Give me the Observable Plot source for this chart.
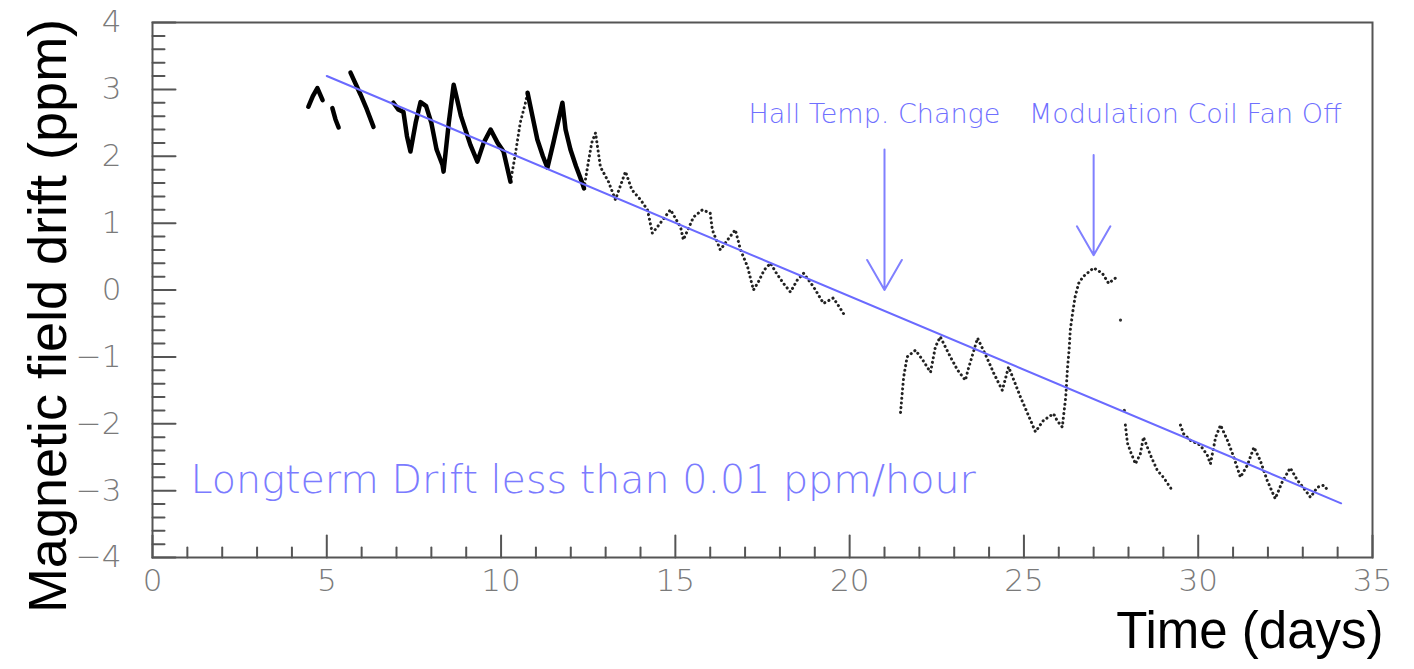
<!DOCTYPE html>
<html>
<head>
<meta charset="utf-8">
<script src="https://cdn.jsdelivr.net/npm/d3@7"></script>
<script src="https://cdn.jsdelivr.net/npm/@observablehq/plot@0.6"></script>
<style>
  html, body { margin: 0; padding: 0; background: #fff; }
</style>
</head>
<body>
<div id="chart"></div>
<script>
// ---- Data ----
// Dense (thick) measurement pieces: time in days, drift in ppm, piece id
const denseTime = [4.47, 4.6, 4.73, 4.88,
  5.16, 5.25, 5.34,
  5.68, 5.97, 6.15, 6.34,
  6.91, 7.05, 7.2, 7.3, 7.4, 7.55, 7.69, 7.85, 8.0, 8.15, 8.32, 8.35, 8.5, 8.64, 8.85, 9.12, 9.32, 9.5, 9.7, 9.9, 10.07, 10.27,
  10.76, 10.9, 11.04, 11.2, 11.33, 11.5, 11.76, 11.85, 11.99, 12.15, 12.33, 12.38];
const denseDrift = [2.74, 2.9, 3.02, 2.84,
  2.72, 2.55, 2.43,
  3.25, 2.92, 2.7, 2.44,
  2.8, 2.7, 2.66, 2.3, 2.07, 2.5, 2.81, 2.75, 2.5, 2.1, 1.87, 1.77, 2.5, 3.07, 2.6, 2.17, 1.92, 2.2, 2.4, 2.2, 2.07, 1.62,
  2.95, 2.6, 2.25, 2.0, 1.83, 2.2, 2.8, 2.4, 2.1, 1.85, 1.6, 1.52];
const densePiece = [1, 1, 1, 1,
  2, 2, 2,
  3, 3, 3, 3,
  4, 4, 4, 4, 4, 4, 4, 4, 4, 4, 4, 4, 4, 4, 4, 4, 4, 4, 4, 4, 4, 4,
  5, 5, 5, 5, 5, 5, 5, 5, 5, 5, 5, 5];

// Sparse (dotted) measurement pieces
const sparseTime = [10.27, 10.4, 10.55, 10.7, 10.76,
  12.38, 12.5, 12.6, 12.71, 12.85, 13.08, 13.28, 13.57, 13.75, 14.0, 14.2, 14.34, 14.48, 14.86, 15.15, 15.23, 15.52, 15.78, 16.0, 16.06, 16.29, 16.5, 16.72, 16.87, 17.07, 17.24, 17.38, 17.55, 17.73, 17.9, 18.1, 18.3, 18.5, 18.68, 18.96, 19.25, 19.53, 19.7, 19.88,
  21.46, 21.55, 21.65, 21.89, 22.1, 22.32, 22.46, 22.6, 22.89, 23.1, 23.32, 23.41, 23.67, 23.9, 24.13, 24.38, 24.56, 24.75, 24.9, 25.1, 25.33, 25.56, 25.85, 25.95, 26.1, 26.2, 26.25, 26.3, 26.33, 26.4, 26.47, 26.57, 26.7, 27.0, 27.25, 27.43, 27.68,
  27.91, 27.97, 28.06, 28.2, 28.34, 28.43, 28.63, 28.83, 29.0, 29.26,
  29.49, 29.58, 29.78, 30.06, 30.26, 30.35, 30.5, 30.64, 30.84, 31.0, 31.21, 31.41, 31.6, 31.78, 31.98, 32.21, 32.41, 32.64, 32.84, 33.08, 33.22, 33.42, 33.6, 33.73];
const sparseDrift = [1.62, 2.0, 2.5, 2.8, 2.95,
  1.52, 1.9, 2.2, 2.35, 1.84, 1.62, 1.35, 1.77, 1.5, 1.35, 1.2, 0.85, 0.94, 1.2, 0.94, 0.75, 1.09, 1.2, 1.15, 0.9, 0.6, 0.75, 0.9, 0.6, 0.35, 0.0, 0.12, 0.3, 0.4, 0.25, 0.1, -0.03, 0.15, 0.25, 0.05, -0.2, -0.12, -0.25, -0.4,
  -1.83, -1.3, -1.0, -0.9, -1.05, -1.23, -0.85, -0.7, -1.0, -1.2, -1.35, -1.17, -0.72, -0.97, -1.24, -1.5, -1.15, -1.4, -1.6, -1.84, -2.12, -1.95, -1.85, -1.95, -2.05, -1.6, -1.17, -0.87, -0.6, -0.33, -0.1, 0.1, 0.2, 0.33, 0.25, 0.1, 0.2,
  -2.02, -2.29, -2.42, -2.6, -2.45, -2.2, -2.47, -2.7, -2.8, -3.0,
  -2.02, -2.15, -2.25, -2.32, -2.47, -2.6, -2.2, -2.02, -2.25, -2.47, -2.8, -2.62, -2.35, -2.55, -2.85, -3.12, -2.87, -2.66, -2.84, -3.0, -3.1, -2.95, -2.92, -3.0];
const sparsePiece = [1, 1, 1, 1, 1,
  2, 2, 2, 2, 2, 2, 2, 2, 2, 2, 2, 2, 2, 2, 2, 2, 2, 2, 2, 2, 2, 2, 2, 2, 2, 2, 2, 2, 2, 2, 2, 2, 2, 2, 2, 2, 2, 2, 2,
  3, 3, 3, 3, 3, 3, 3, 3, 3, 3, 3, 3, 3, 3, 3, 3, 3, 3, 3, 3, 3, 3, 3, 3, 3, 3, 3, 3, 3, 3, 3, 3, 3, 3, 3, 3, 3,
  4, 4, 4, 4, 4, 4, 4, 4, 4, 4,
  5, 5, 5, 5, 5, 5, 5, 5, 5, 5, 5, 5, 5, 5, 5, 5, 5, 5, 5, 5, 5, 5, 5, 5];

// Isolated stray points
const strayTime = [27.77, 27.88];
const strayDrift = [-0.45, -1.8];

// Long-term linear fit
const fitTime = [5.0, 34.1];
const fitDrift = [3.2, -3.19];

// Annotations
const noteLabels = ["Hall Temp. Change", "Modulation Coil Fan Off"];
const noteTextTime = [20.71, 29.63];
const noteTextDrift = [2.62, 2.62];
const arrowTime = [21.0, 27.0];
const arrowFrom = [2.1, 2.02];
const arrowTo = [0.0, 0.52];
const driftNote = "Longterm Drift less than 0.01 ppm/hour";
const driftNoteTime = 1.09;
const driftNoteDrift = -2.84;

// Axis ticks
const xMajor = [0, 5, 10, 15, 20, 25, 30, 35];
const xMinor = d3.range(0, 36).filter(d => d % 5 !== 0);
const yMajor = [-4, -3, -2, -1, 0, 1, 2, 3, 4];
const yMinor = d3.range(-40, 41, 2).filter(d => d % 10 !== 0).map(d => d / 10);

const xTitle = "Time (days)";
const yTitle = "Magnetic field drift (ppm)";

// ---- Build tables ----
const dense = denseTime.map((t, i) => ({t, v: denseDrift[i], p: densePiece[i]}));
const sparse = sparseTime.map((t, i) => ({t, v: sparseDrift[i], p: sparsePiece[i]}));
const stray = strayTime.map((t, i) => ({t, v: strayDrift[i]}));
const fit = fitTime.map((t, i) => ({t, v: fitDrift[i]}));
const notes = noteLabels.map((label, i) => ({label, t: noteTextTime[i], v: noteTextDrift[i]}));
const arrows = arrowTime.map((t, i) => ({t, v1: arrowFrom[i], v2: arrowTo[i]}));

const tickShape = {draw(context, l) { context.moveTo(0, 0); context.lineTo(0, -l); }};
const axisColor = "#555";
const blue = "#6a6aff";
const labelFont = "DejaVu Sans";
const fmt = d => String(d).replace("-", "\u2212");

const chart = Plot.plot({
  width: 1414,
  height: 669,
  marginLeft: 152,
  marginRight: 42,
  marginTop: 22,
  marginBottom: 112,
  x: {domain: [0, 35]},
  y: {domain: [-4, 4]},
  style: {background: "#fff", fontFamily: labelFont},
  marks: [
    // tick labels
    Plot.axisX(xMajor, {tickSize: 0, tickPadding: 11, tickFormat: fmt, fontSize: 31, fill: "#7a7a7a", fontWeight: 300, label: null}),
    Plot.axisY(yMajor, {tickSize: 0, tickPadding: 31, tickFormat: fmt, fontSize: 31, fill: "#7a7a7a", fontWeight: 300, label: null}),
    // inward ticks
    Plot.vector(xMinor, {x: d => d, y: -4, length: 10, rotate: 0, anchor: "start", shape: tickShape, stroke: axisColor, strokeWidth: 2}),
    Plot.vector(xMajor, {x: d => d, y: -4, length: 22, rotate: 0, anchor: "start", shape: tickShape, stroke: axisColor, strokeWidth: 2}),
    Plot.vector(yMinor, {x: 0, y: d => d, length: 12, rotate: 90, anchor: "start", shape: tickShape, stroke: axisColor, strokeWidth: 2}),
    Plot.vector(yMajor, {x: 0, y: d => d, length: 23, rotate: 90, anchor: "start", shape: tickShape, stroke: axisColor, strokeWidth: 2}),
    Plot.frame({stroke: axisColor, strokeWidth: 2}),
    // data
    Plot.line(sparse, {x: "t", y: "v", z: "p", stroke: "#222", strokeWidth: 3, strokeLinecap: "round", strokeDasharray: "0.1,4.6"}),
    Plot.line(dense, {x: "t", y: "v", z: "p", stroke: "#000", strokeWidth: 4.5, strokeLinejoin: "round"}),
    Plot.dot(stray, {x: "t", y: "v", r: 1.6, fill: "#333"}),
    // fit
    Plot.line(fit, {x: "t", y: "v", stroke: blue, strokeWidth: 2}),
    // annotations
    Plot.arrow(arrows, {x: "t", y1: "v1", y2: "v2", stroke: "#8080ff", strokeWidth: 2, headLength: 26, headAngle: 60}),
    Plot.text(notes, {x: "t", y: "v", text: "label", fontSize: 27, fill: "#7070ff", fontWeight: 300}),
    Plot.text([driftNote], {x: driftNoteTime, y: driftNoteDrift, text: d => d, textAnchor: "start", fontSize: 39.6, fill: "#7b7bff", fontWeight: 300}),
    // axis titles
    Plot.text([yTitle], {frameAnchor: "left", text: d => d, textAnchor: "middle", rotate: -90, dx: -104, dy: 26, fontSize: 54, fill: "#000", fontFamily: "Liberation Sans"}),
    Plot.text([xTitle], {frameAnchor: "bottom-right", text: d => d, textAnchor: "end", dx: 11, dy: 90, fontSize: 51, fill: "#000", fontFamily: "Liberation Sans"})
  ]
});
document.getElementById("chart").appendChild(chart);
</script>
</body>
</html>
